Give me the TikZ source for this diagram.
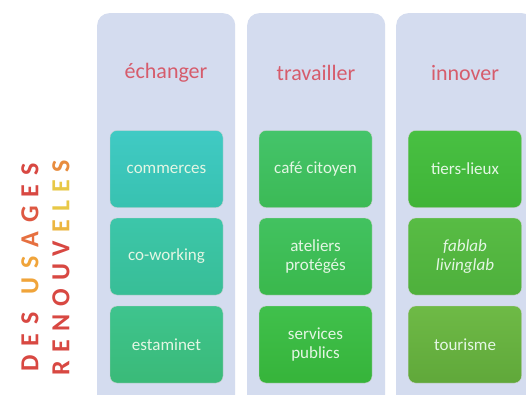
\documentclass[tikz,border=0pt]{standalone}
\usepackage{fontspec}
\setmainfont{Carlito}
\definecolor{panelfill}{RGB}{212,220,239}
\definecolor{titlecol}{RGB}{214,92,108}
\definecolor{boxtext}{RGB}{228,246,228}
\definecolor{cred}{RGB}{216,72,66}
\definecolor{cred2}{RGB}{222,88,66}
\definecolor{corange}{RGB}{230,112,64}
\definecolor{cyel}{RGB}{240,164,58}
\definecolor{cyel2}{RGB}{232,200,70}
\definecolor{cyel3}{RGB}{236,182,64}
\definecolor{corg2}{RGB}{232,140,62}
\newlength\lspace
\newcommand\cl[2]{\textcolor{#1}{#2}\kern\lspace}
\tikzset{
  panel/.style={fill=panelfill, rounded corners=12pt, minimum width=138pt, minimum height=420pt, anchor=north west, inner sep=0pt},
  title/.style={text=titlecol, font=\fontsize{22}{25}\selectfont},
  ubox/.style={rounded corners=7pt, minimum width=113pt, minimum height=77pt, inner sep=2pt, text=boxtext, align=center, font=\fontsize{17}{19}\selectfont, draw=black!18, line width=0.4pt},
}
\begin{document}
\begin{tikzpicture}[x=1pt,y=-1pt]
\useasboundingbox (0,0) rectangle (526,394);
\clip (0,0) rectangle (526,394);
\fill[white] (0,0) rectangle (526,394);
% panels
\node[panel] (p1) at (97,13) {};
\node[panel] (p2) at (247,13) {};
\node[panel] (p3) at (396,13) {};
% titles
\node[title] (t1) at (166,73) {échanger};
\node[title] (t2) at (316,73) {travailler};
\node[title] (t3) at (465,73) {innover};
% column 1
\node[ubox, top color={rgb,255:red,64;green,202;blue,196}, bottom color={rgb,255:red,56;green,194;blue,176}] (a1) at (166.5,169) {commerces};
\node[ubox, top color={rgb,255:red,60;green,198;blue,170}, bottom color={rgb,255:red,56;green,190;blue,150}] (a2) at (166.5,256.5) {co-working};
\node[ubox, top color={rgb,255:red,62;green,196;blue,142}, bottom color={rgb,255:red,58;green,186;blue,120}] (a3) at (166.5,344.5) {estaminet};
% column 2
\node[ubox, top color={rgb,255:red,68;green,196;blue,106}, bottom color={rgb,255:red,60;green,186;blue,86}] (b1) at (315.5,169) {café citoyen};
\node[ubox, top color={rgb,255:red,66;green,194;blue,96}, bottom color={rgb,255:red,58;green,184;blue,76}] (b2) at (315.5,256.5) {ateliers\\protégés};
\node[ubox, top color={rgb,255:red,64;green,192;blue,76}, bottom color={rgb,255:red,54;green,180;blue,58}] (b3) at (315.5,344.5) {services\\publics};
% column 3
\node[ubox, top color={rgb,255:red,72;green,192;blue,66}, bottom color={rgb,255:red,64;green,180;blue,56}] (c1) at (465,169) {tiers-lieux};
\node[ubox, top color={rgb,255:red,88;green,188;blue,68}, bottom color={rgb,255:red,78;green,176;blue,60}] (c2) at (465,256.5) {\itshape fablab\\\itshape livinglab};
\node[ubox, top color={rgb,255:red,110;green,186;blue,70}, bottom color={rgb,255:red,96;green,168;blue,58}] (c3) at (465,344.5) {tourisme};
% side label
\node[rotate=90, align=center, font=\bfseries\fontsize{26}{31}\selectfont] (side) at (45.5,267.5)
 {\setlength\lspace{9pt}\cl{cred}{D}\cl{cred}{E}\cl{cred}{S}\kern\lspace\cl{cyel}{U}\cl{cyel}{S}\cl{corange}{A}\cl{cred2}{G}\cl{cred}{E}\textcolor{cred}{S}\\
  \setlength\lspace{8pt}\cl{cred}{R}\cl{cred}{E}\cl{cred}{N}\cl{cred}{O}\cl{cred}{U}\cl{cred}{V}\cl{cyel3}{E}\cl{cyel2}{L}\cl{cyel2}{E}\textcolor{corg2}{S}};
\end{tikzpicture}
\end{document}
